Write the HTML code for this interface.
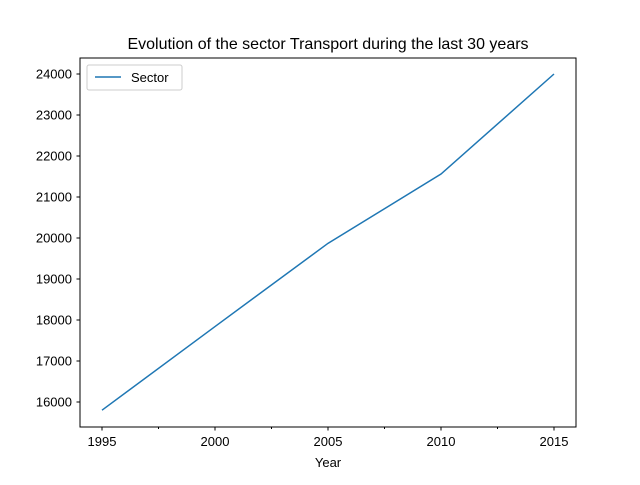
<!DOCTYPE html>
<html><head><meta charset="utf-8"><style>
body{margin:0;background:#fff;}
svg text{font-family:"Liberation Sans","DejaVu Sans",sans-serif;fill:#000;}
</style></head><body>
<svg id="chart" width="640" height="480" xmlns="http://www.w3.org/2000/svg">
<rect width="640" height="480" fill="#fff"/>
<text x="328" y="49" font-size="16" text-anchor="middle">Evolution of the sector Transport during the last 30 years</text>
<g id="ticks"></g>
<path id="line" fill="none" stroke="#1f77b4" stroke-width="1.5"/>
<rect x="80" y="58" width="496" height="369" fill="none" stroke="#000" stroke-width="1"/>
<text x="328" y="467" font-size="13" text-anchor="middle">Year</text>
<g>
<rect x="87" y="65" width="95" height="25" rx="2" fill="#fff" stroke="#ccc"/>
<line x1="95" y1="77" x2="121" y2="77" stroke="#1f77b4" stroke-width="1.5"/>
<text x="131" y="82" font-size="13">Sector</text>
</g>
</svg>
<script>
const years=[1995,2000,2005,2010,2015];
const values=[15800,17840,19870,21560,24000];
const yTicks=[16000,17000,18000,19000,20000,21000,22000,23000,24000];
const xTicks=[1995,2000,2005,2010,2015];
const xMinor=[1997.5,2002.5,2007.5,2012.5];
const X=v=>102+(v-1995)*(554-102)/20;
const Y=v=>402-(v-16000)*(402-74)/8000;
const NS="http://www.w3.org/2000/svg";
const g=document.getElementById('ticks');
function mk(t,a){const e=document.createElementNS(NS,t);for(const k in a)e.setAttribute(k,a[k]);g.appendChild(e);return e;}
yTicks.forEach(v=>{
 const l=mk('line',{x1:76.5,x2:80,y1:Y(v),y2:Y(v),stroke:'#000'});
 
 
 const t=mk('text',{x:72,y:Y(v)+4.5,'font-size':13,'text-anchor':'end'});
 t.textContent=v;
 
 
});
xTicks.forEach(v=>{
 const l=mk('line',{x1:X(v),x2:X(v),y1:427,y2:430.5,stroke:'#000'});
 
 
 const t=mk('text',{x:X(v),y:446,'font-size':13,'text-anchor':'middle'});
 t.textContent=v;
 
 
});
xMinor.forEach(v=>{
 const l=mk('line',{x1:X(v),x2:X(v),y1:427,y2:429,stroke:'#000'});
 
 
});
document.getElementById('line').setAttribute('d',years.map((y,i)=>(i?'L':'M')+X(y)+','+Y(values[i])).join(''));
</script>
</body></html>
